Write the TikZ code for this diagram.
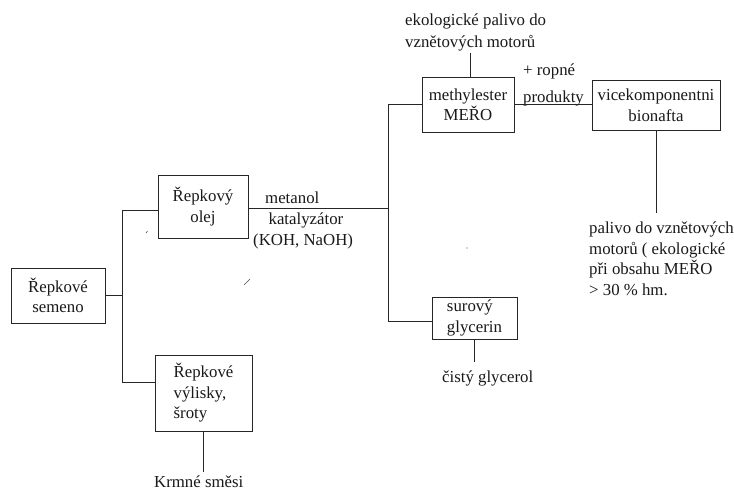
\documentclass[tikz,border=0pt]{standalone}
\usepackage{fontspec}
\setmainfont{Liberation Serif}
\begin{document}
\begin{tikzpicture}[x=1pt,y=-1pt,
  every node/.style={font=\fontsize{16.8}{20.5}\selectfont, text=black!90},
  link/.style={draw=black!85, line width=0.9pt},
  stepbox/.style={draw=black!85, line width=0.9pt, rectangle, inner sep=0pt},
  note/.style={inner sep=0pt, align=left, anchor=base west},
  speck/.style={draw=black!70, line width=0.6pt}]
\fill[white] (0,0) rectangle (734,488);
\useasboundingbox (0,0) rectangle (734,488);

% process boxes
\node[stepbox, minimum width=94pt, minimum height=55pt, align=center] (semeno) at (58,295.5) {Řepkové\\semeno};
\node[stepbox, minimum width=90pt, minimum height=63pt, align=center] (olej) at (203,206.5) {Řepkový\\olej};
\node[stepbox, minimum width=97pt, minimum height=76pt, align=left] (vylisky) at (203.5,393) {Řepkové\\výlisky,\\šroty};
\node[stepbox, minimum width=92pt, minimum height=55pt, align=center] (methyl) at (468,104.5) {methylester\\MEŘO};
\node[stepbox, minimum width=128pt, minimum height=50pt, align=center] (vice) at (656,105) {vicekomponentni\\bionafta};
\node[stepbox, minimum width=85pt, minimum height=42pt, align=left] (surovy) at (474.5,318) {surový\\glycerin};

% free labels (base anchor = baseline of the last line)
\node[note] (metanol) at (265,203) {metanol};
\node[note, align=center] (katal) at (253,245) {\hphantom{(}katalyzátor\\(KOH, NaOH)};
\node[note] (ropne) at (523,102) {+ ropné\\[6.5pt]produkty};
\node[note] (ekol) at (405,47) {ekologické palivo do\\[1.5pt]vznětových motorů};
\node[note] (palivo) at (589,295) {palivo do vznětových\\motorů ( ekologické\\při obsahu MEŘO\\> 30 \% hm.};
\node[note] (cisty) at (442,382) {čistý glycerol};
\node[note] (krmne) at (154,487) {Krmné směsi};

% branch points and line ends
\coordinate (s1) at (122,210);
\coordinate (s2) at (122,382);
\coordinate (m0) at (388,104);
\coordinate (m1) at (388,208);
\coordinate (m2) at (388,321);
\coordinate (e1) at (470,53);
\coordinate (v1) at (656,213);
\coordinate (g1) at (474.5,362);
\coordinate (k1) at (203.5,472);

% connectors
\draw[link] (semeno.east) -- (semeno.east -| s1);
\draw[link] (s1) -- (s2);
\draw[link] (s1) -- (s1 -| olej.west);
\draw[link] (s2) -- (s2 -| vylisky.west);
\draw[link] (vylisky.south) -- (k1);
\draw[link] (m1 -| olej.east) -- (m1);
\draw[link] (m0) -- (m2);
\draw[link] (m0) -- (m0 -| methyl.west);
\draw[link] (m2) -- (m2 -| surovy.west);
\draw[link] (m0 -| methyl.east) -- (m0 -| vice.west);
\draw[link] (methyl.north -| e1) -- (e1);
\draw[link] (vice.south) -- (v1);
\draw[link] (surovy.south) -- (g1);

% stray pen marks
\draw[speck] (146,233) -- (147.5,231);
\draw[speck] (244,285) -- (250,279);
\fill[black!70] (467,248) circle (0.7);
\end{tikzpicture}
\end{document}
